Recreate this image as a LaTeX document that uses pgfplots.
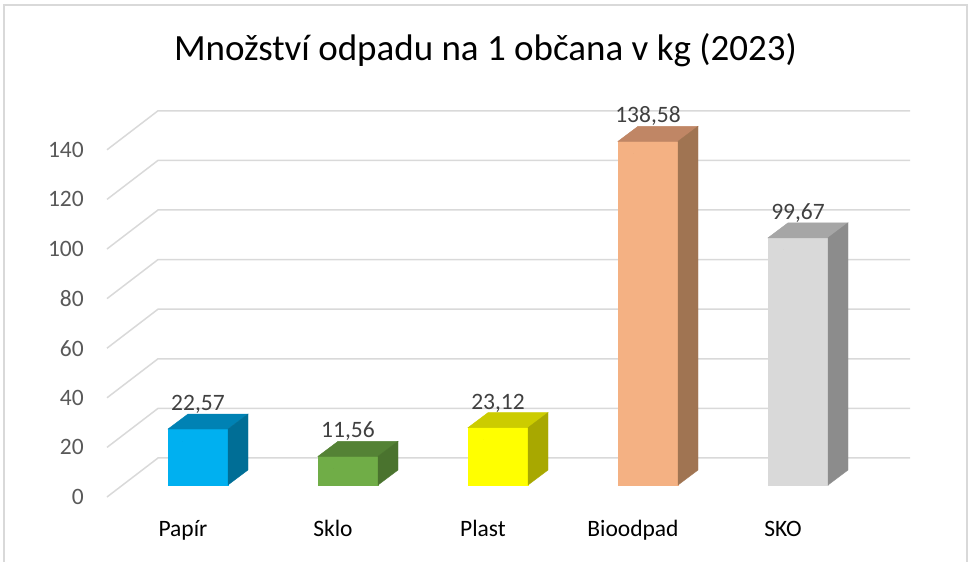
\documentclass[border=0pt]{standalone}
\usepackage{fontspec}
\setmainfont{Carlito}
\usepackage{pgfplots}
\pgfplotsset{compat=1.18}
\definecolor{gridc}{RGB}{217,217,217}
\definecolor{framec}{RGB}{217,217,217}
\definecolor{ticc}{RGB}{89,89,89}
\definecolor{lblc}{RGB}{64,64,64}
\definecolor{papF}{RGB}{0,176,240}\definecolor{papT}{RGB}{0,130,180}\definecolor{papS}{RGB}{0,110,150}
\definecolor{skF}{RGB}{112,173,71}\definecolor{skT}{RGB}{84,130,53}\definecolor{skS}{RGB}{74,115,46}
\definecolor{plF}{RGB}{255,255,0}\definecolor{plT}{RGB}{204,204,0}\definecolor{plS}{RGB}{168,168,0}
\definecolor{bioF}{RGB}{244,177,131}\definecolor{bioT}{RGB}{192,134,101}\definecolor{bioS}{RGB}{160,116,82}
\definecolor{skoF}{RGB}{217,217,217}\definecolor{skoT}{RGB}{166,166,166}\definecolor{skoS}{RGB}{140,140,140}
\newcommand\ticfont{\fontsize{23.5pt}{28pt}\selectfont}
\pgfplotsset{
  bar3d/.style n args={3}{
    only marks, mark=*, mark size=0pt, mark options={draw=none,fill=none},
    scatter,
    visualization depends on={rawy \as \barval},
    scatter/@pre marker code/.code={%
      \pgfmathsetmacro\ybot{12-2.48*\barval}%
      \pgfmathsetmacro\ysbot{27-2.48*\barval}%
      \fill[#1] (-15pt,12pt) rectangle (45pt,\ybot pt);
      \fill[#3] (-15pt,12pt) -- (45pt,12pt) -- (65pt,27pt) -- (5pt,27pt) -- cycle;
      \fill[#2] (45pt,12pt) -- (65pt,27pt) -- (65pt,\ysbot pt) -- (45pt,\ybot pt) -- cycle;
      \node[anchor=base, text=lblc, font=\ticfont, inner sep=0pt] at (15pt,30.5pt)
        {\pgfmathprintnumber[fixed, fixed zerofill, precision=2, use comma]{\barval}};
    },
    scatter/@post marker code/.code={},
  }
}
\begin{document}
\begin{tikzpicture}
\begin{axis}[
  x=150pt, y=2.48pt,
  xmin=-0.5067, xmax=4.8467, ymin=0, ymax=160,
  clip=false,
  axis line style={draw=none},
  major tick style={draw=none},
  ytick={0,20,...,140},
  xtick={0,1,2,3,4},
  xticklabels={Papír,Sklo,Plast,Bioodpad,SKO},
  /pgf/number format/assume math mode=true,
  ticklabel style={font=\ticfont},
  yticklabel style={anchor=east, inner sep=0pt, xshift=-23pt, text=ticc},
  xticklabel style={anchor=base, inner sep=0pt, yshift=-39pt, text=black},
]
\addplot[gridc, line width=1.5pt, unbounded coords=jump] table[row sep=\\] {
x y\\
-0.5067 0\\ -0.1667 15.726\\ 4.8467 15.726\\ nan nan\\
-0.5067 20\\ -0.1667 35.726\\ 4.8467 35.726\\ nan nan\\
-0.5067 40\\ -0.1667 55.726\\ 4.8467 55.726\\ nan nan\\
-0.5067 60\\ -0.1667 75.726\\ 4.8467 75.726\\ nan nan\\
-0.5067 80\\ -0.1667 95.726\\ 4.8467 95.726\\ nan nan\\
-0.5067 100\\ -0.1667 115.726\\ 4.8467 115.726\\ nan nan\\
-0.5067 120\\ -0.1667 135.726\\ 4.8467 135.726\\ nan nan\\
-0.5067 140\\ -0.1667 155.726\\ 4.8467 155.726\\
};
\addplot[bar3d={papF}{papS}{papT}] coordinates {(0,22.57)};
\addplot[bar3d={skF}{skS}{skT}] coordinates {(1,11.56)};
\addplot[bar3d={plF}{plS}{plT}] coordinates {(2,23.12)};
\addplot[bar3d={bioF}{bioS}{bioT}] coordinates {(3,138.58)};
\addplot[bar3d={skoF}{skoS}{skoT}] coordinates {(4,99.67)};
\coordinate (O) at (axis cs:0,0);
\end{axis}
\node[anchor=base, font=\fontsize{37pt}{43pt}\selectfont, text=black, inner sep=0pt] at ([shift={(302.5pt,436pt)}]O) {Množství odpadu na 1 občana v kg (2023)};
\draw[framec, line width=1.5pt] ([shift={(-179pt,-80pt)}]O) -- ([shift={(-179pt,492pt)}]O) -- ([shift={(784pt,492pt)}]O) -- ([shift={(784pt,-80pt)}]O);
\pgfresetboundingbox
\path ([shift={(-183pt,-65pt)}]O) rectangle ([shift={(786pt,497pt)}]O);
\end{tikzpicture}
\end{document}
